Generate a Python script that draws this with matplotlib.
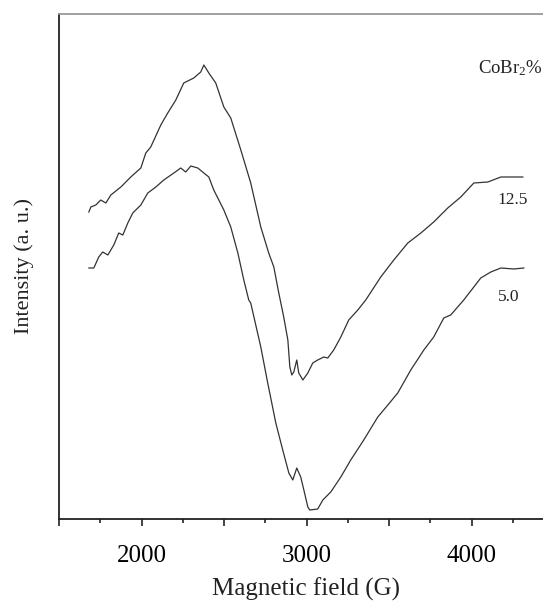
import matplotlib
matplotlib.use("Agg")
import matplotlib.pyplot as plt
from matplotlib.ticker import MultipleLocator, FuncFormatter

plt.rcParams["font.family"] = ["Liberation Serif", "DejaVu Serif"]
plt.rcParams["mathtext.fontset"] = "custom"
plt.rcParams["mathtext.rm"] = "Liberation Serif"
plt.rcParams["mathtext.it"] = "Liberation Serif:italic"

# EPR spectra, field in gauss, intensity in arbitrary units
field_125 = [1681, 1693, 1723, 1753, 1784, 1814, 1875, 1935, 1996, 2026, 2056, 2117,
             2159, 2208, 2256, 2317, 2359, 2378, 2408, 2450, 2499, 2541, 2602, 2662,
             2723, 2771, 2802, 2832, 2862, 2887, 2899, 2911, 2923, 2941, 2953, 2978,
             3008, 3038, 3068, 3105, 3129, 3165, 3208, 3256, 3311, 3359, 3450, 3529,
             3614, 3693, 3771, 3856, 3935, 4014, 4099, 4178, 4256, 4311]
intensity_125 = [307, 312, 314, 319, 316, 324, 332, 342, 351, 366, 372, 394,
                 406, 419, 436, 441, 447, 454, 446, 436, 412, 401, 369, 336,
                 292, 266, 252, 226, 202, 179, 152, 144, 147, 159, 146, 139,
                 146, 156, 159, 162, 161, 169, 182, 199, 209, 219, 242, 259,
                 276, 286, 297, 311, 322, 336, 337, 342, 342, 342]

field_50 = [1681, 1711, 1741, 1765, 1796, 1832, 1862, 1887, 1917, 1947, 1996, 2038,
            2087, 2135, 2196, 2238, 2268, 2299, 2341, 2378, 2408, 2438, 2499, 2541,
            2584, 2620, 2650, 2662, 2723, 2765, 2814, 2856, 2893, 2917, 2941, 2965,
            2984, 3008, 3020, 3068, 3099, 3147, 3208, 3268, 3347, 3432, 3493, 3553,
            3632, 3711, 3771, 3832, 3874, 3953, 4014, 4056, 4117, 4178, 4256, 4317]
intensity_50 = [251, 251, 262, 267, 264, 274, 286, 284, 296, 306, 314, 326,
                332, 339, 346, 351, 347, 353, 351, 346, 342, 329, 309, 292,
                266, 239, 219, 216, 172, 136, 96, 69, 46, 39, 51, 42,
                29, 12, 9, 10, 19, 27, 42, 59, 79, 102, 114, 126,
                149, 169, 182, 201, 204, 219, 232, 241, 247, 251, 250, 251]

labels = ["12.5", "5.0"]
label_pos = [(4160, 319), (4160, 222)]

fig = plt.figure(figsize=(5.43, 6.03), dpi=100)
ax = fig.add_axes([59 / 543, 84 / 603, 495 / 543, 505 / 603])

ax.plot(field_125, intensity_125, color="#333333", lw=0.9)
ax.plot(field_50, intensity_50, color="#333333", lw=0.9)

for text, (x, y) in zip(labels, label_pos):
    ax.text(x, y, text, fontsize=12.5, ha="left", va="center", color="#222222")
ax.text(4040, 451, r"CoBr$_2$%", fontsize=13.5, ha="left", va="center",
        color="#222222", clip_on=False)

ax.set_xlim(1500, 4500)
ax.set_ylim(0, 505)

ax.xaxis.set_major_locator(MultipleLocator(500))
ax.xaxis.set_minor_locator(MultipleLocator(250))
ax.xaxis.set_major_formatter(FuncFormatter(
    lambda v, pos: f"{int(v)}" if v % 1000 == 0 and v > 1500 else ""))
ax.tick_params(axis="x", which="major", direction="out", length=5, width=1.2,
               labelsize=18, pad=14, color="#222222")
ax.tick_params(axis="x", which="minor", direction="out", length=3, width=1.2,
               color="#222222")
ax.set_yticks([])

ax.spines["left"].set_color("#222222")
ax.spines["bottom"].set_color("#222222")
ax.spines["left"].set_linewidth(1.3)
ax.spines["bottom"].set_linewidth(1.3)
ax.spines["top"].set_color("#999999")
ax.spines["top"].set_linewidth(1.3)
ax.spines["right"].set_visible(False)

ax.set_xlabel("Magnetic field (G)", fontsize=18, labelpad=7, color="#222222")
ax.set_ylabel("Intensity (a. u.)", fontsize=16, va="center", color="#222222")
ax.yaxis.set_label_coords((24 - 59) / 495, 0.5)

fig.savefig("out.png", dpi=100)
